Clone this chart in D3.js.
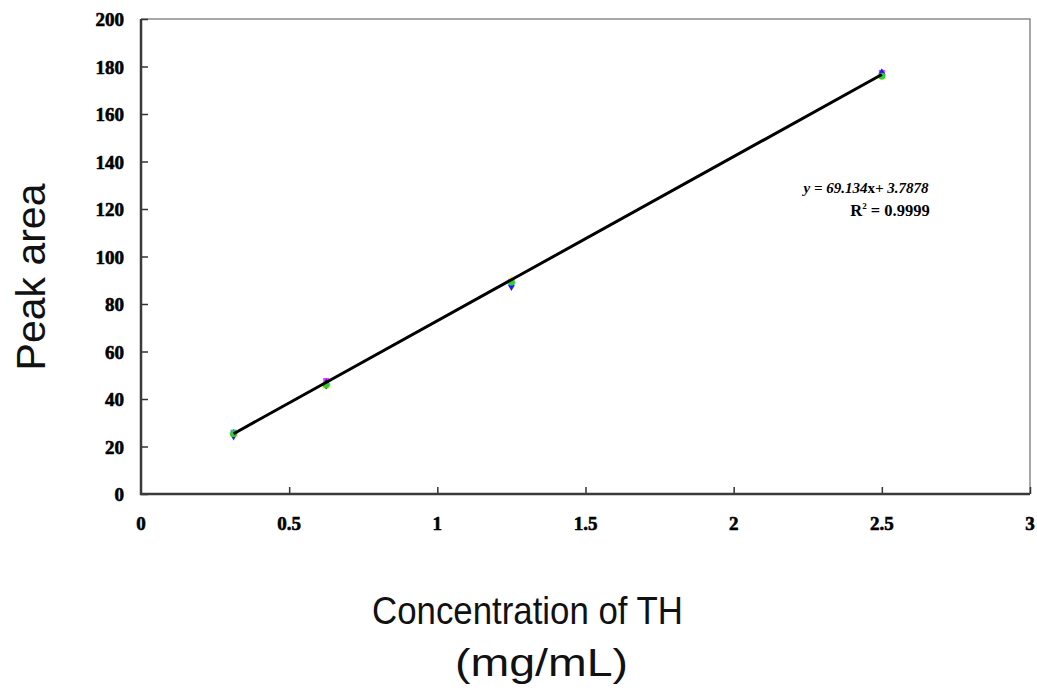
<!DOCTYPE html>
<html>
<head>
<meta charset="utf-8">
<script src="https://cdn.jsdelivr.net/npm/d3@7"></script>
<style>
  body { margin: 0; background: #fff; }
  svg { display: block; }
</style>
</head>
<body>
<svg id="chart" width="1037" height="695"></svg>
<script>
// calibration data: concentration (mg/mL) vs peak area, replicate injections
const conc = [0.3125, 0.625, 1.25, 2.5];
const rep1 = [25.8, 47.6, 89.4, 177.3];
const rep2 = [25.2, 45.5, 89.8, 176.0];
const rep3 = [25.6, 45.9, 88.9, 176.4];
const rep4 = [24.9, 46.3, 87.8, 176.9];
const rep5 = [25.4, 46.0, 89.2, 175.9];
const repColors = ['#ff33ff', '#ffff00', '#33ffff', '#1a1aff', '#33cc33'];
const repShapes = [d3.symbolSquare, d3.symbolTriangle, d3.symbolCross, d3.symbolDiamond, d3.symbolCircle];

const slope = 69.134, intercept = 3.7878;
const xTicks = [0, 0.5, 1, 1.5, 2, 2.5, 3];
const yTicks = [0, 20, 40, 60, 80, 100, 120, 140, 160, 180, 200];

const svg = d3.select('#chart');
const plotL = 141, plotR = 1030, plotT = 19, plotB = 494;

let x = d3.scaleLinear().domain([0, 3]).range([plotL, plotR]);
let y = d3.scaleLinear().domain([0, 200]).range([plotB, plotT]);

// frame: top and right borders lighter
svg.append('path')
  .attr('d', `M${plotL},${plotT}H${plotR}V${plotB}`)
  .attr('fill', 'none')
  .attr('stroke', '#8a8a8a')
  .attr('stroke-width', 1.5);

// y axis, ticks pointing into plot
let yAxis = svg.append('g')
  .attr('transform', `translate(${plotL},0)`)
  .call(d3.axisRight(y).tickValues(yTicks).tickSize(7).tickFormat(''));
yAxis.select('.domain').remove();
yAxis.selectAll('line').attr('stroke', '#333').attr('stroke-width', 1.5);

// x axis, ticks pointing up
let xAxis = svg.append('g')
  .attr('transform', `translate(0,${plotB})`)
  .call(d3.axisTop(x).tickValues(xTicks.slice(1)).tickSize(7).tickFormat(''));
xAxis.select('.domain').remove();
xAxis.selectAll('line').attr('stroke', '#333').attr('stroke-width', 1.5);

svg.append('path')
  .attr('d', `M${plotL},${plotT}V${plotB}H${plotR}`)
  .attr('fill', 'none')
  .attr('stroke', '#3a3a3a')
  .attr('stroke-width', 2.5);

// tick labels
svg.append('g').selectAll('text')
  .data(yTicks)
  .enter().append('text')
  .attr('x', 124)
  .attr('y', d => y(d) + 7)
  .attr('text-anchor', 'end')
  .attr('font-family', 'Liberation Serif, Times New Roman, serif')
  .attr('font-weight', 'bold')
  .attr('font-size', 19)
  .attr('stroke', '#000')
  .attr('stroke-width', 0.6)
  .text(d => d);

svg.append('g').selectAll('text')
  .data(xTicks)
  .enter().append('text')
  .attr('x', d => x(d))
  .attr('y', 530)
  .attr('text-anchor', 'middle')
  .attr('font-family', 'Liberation Serif, Times New Roman, serif')
  .attr('font-weight', 'bold')
  .attr('font-size', 19)
  .attr('stroke', '#000')
  .attr('stroke-width', 0.6)
  .text(d => d);

// replicate markers
[rep1, rep2, rep3, rep4, rep5].forEach((rep, i) => {
  svg.append('g').selectAll('path')
    .data(rep)
    .enter().append('path')
    .attr('transform', (d, j) => `translate(${x(conc[j])},${y(d)})`)
    .attr('d', d3.symbol().type(repShapes[i]).size(36))
    .attr('fill', repColors[i]);
});

// trendline
let line = d3.line().x(d => x(d)).y(d => y(slope * d + intercept));
svg.append('path')
  .datum([conc[0], conc[conc.length - 1]])
  .attr('d', line)
  .attr('fill', 'none')
  .attr('stroke', '#000')
  .attr('stroke-width', 3);

// equation
let eq = svg.append('text')
  .attr('x', 866).attr('y', 193)
  .attr('text-anchor', 'middle')
  .attr('font-family', 'Liberation Serif, Times New Roman, serif')
  .attr('font-weight', 'bold')
  .attr('font-size', 15);
eq.append('tspan').attr('font-style', 'italic').text('y = 69.134');
eq.append('tspan').text('x');
eq.append('tspan').attr('font-style', 'italic').text('+ 3.7878');

let r2 = svg.append('text')
  .attr('x', 890).attr('y', 216)
  .attr('text-anchor', 'middle')
  .attr('font-family', 'Liberation Serif, Times New Roman, serif')
  .attr('font-weight', 'bold')
  .attr('font-size', 16.5);
r2.append('tspan').text('R');
r2.append('tspan').attr('font-size', 9).attr('dy', -7).text('2');
r2.append('tspan').attr('dy', 7).text(' = 0.9999');

// axis titles
svg.append('text')
  .attr('transform', 'translate(45,277) rotate(-90)')
  .attr('text-anchor', 'middle')
  .attr('font-family', 'Liberation Sans, Arial, sans-serif')
  .attr('font-size', 41)
  .attr('fill', '#111')
  .text('Peak area');

svg.append('text')
  .attr('x', 372).attr('y', 624)
  .attr('textLength', 311)
  .attr('lengthAdjust', 'spacingAndGlyphs')
  .attr('font-family', 'Liberation Sans, Arial, sans-serif')
  .attr('font-size', 39)
  .attr('fill', '#111')
  .text('Concentration of TH');

svg.append('text')
  .attr('x', 455).attr('y', 676)
  .attr('textLength', 173)
  .attr('lengthAdjust', 'spacingAndGlyphs')
  .attr('font-family', 'Liberation Sans, Arial, sans-serif')
  .attr('font-size', 39)
  .attr('fill', '#111')
  .text('(mg/mL)');
</script>
</body>
</html>
